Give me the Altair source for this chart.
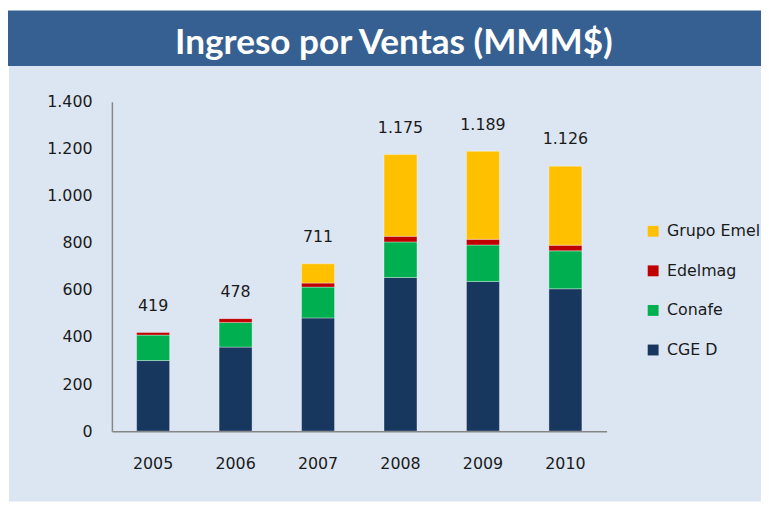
import altair as alt
import pandas as pd

# ---- data ----
years = ["2005", "2006", "2007", "2008", "2009", "2010"]
series_names = ["Grupo Emel", "Edelmag", "Conafe", "CGE D"]   # legend order (top -> bottom)
stack_order = {"CGE D": 0, "Conafe": 1, "Edelmag": 2, "Grupo Emel": 3}
cge_d = [300, 357, 481, 653, 636, 605]
conafe = [108, 105, 131, 151, 155, 161]
edelmag = [11, 16, 17, 24, 24, 24]
grupo_emel = [0, 0, 82, 347, 374, 336]
series_colors = ["#FFC000", "#C00000", "#00B050", "#17375E"]
y_ticks = [0, 200, 400, 600, 800, 1000, 1200, 1400]
title_text = "Ingreso por Ventas (MMM$)"

values_by_series = {
    "CGE D": cge_d,
    "Conafe": conafe,
    "Edelmag": edelmag,
    "Grupo Emel": grupo_emel,
}

rows = []
for name, vals in values_by_series.items():
    for yr, v in zip(years, vals):
        rows.append({"year": yr, "series": name, "value": v, "order": stack_order[name]})
df = pd.DataFrame(rows)

LABEL_FONT = "DejaVu Sans"
TEXT_COLOR = "#1a1a1a"
AXIS_COLOR = "#868686"
PANEL_BG = "#DCE6F2"
BANNER_BG = "#376092"

W, H = 500, 333  # plot area

# decorative panels (page background and title banner)
one = pd.DataFrame({"t": [title_text]})
panel = alt.Chart(one).mark_rect(color=PANEL_BG).encode(
    x=alt.value(-104), x2=alt.value(W + 156),
    y=alt.value(-37), y2=alt.value(H + 71),
)
banner = alt.Chart(one).mark_rect(color=BANNER_BG).encode(
    x=alt.value(-105), x2=alt.value(W + 156),
    y=alt.value(-92), y2=alt.value(-36),
)
banner_text = alt.Chart(one).mark_text(
    font="Lato", fontSize=35.5, fontWeight="bold", color="#ffffff",
    align="center", baseline="alphabetic",
).encode(
    text="t:N",
    x=alt.value(285),
    y=alt.value(-48),
)

base = alt.Chart(df)

bars = base.transform_filter("datum.value > 0").mark_bar(
    stroke="#ffffff", strokeOpacity=0.35, strokeWidth=1
).encode(
    x=alt.X(
        "year:N",
        sort=years,
        scale=alt.Scale(paddingInner=0.6, paddingOuter=0.3),
        axis=alt.Axis(
            title=None, labelAngle=0, ticks=False, grid=False,
            domainColor=AXIS_COLOR, domainWidth=1.5,
            labelFont=LABEL_FONT, labelFontSize=16, labelColor=TEXT_COLOR,
            labelPadding=25, zindex=1,
        ),
    ),
    y=alt.Y(
        "value:Q",
        stack="zero",
        scale=alt.Scale(domain=[0, 1400], nice=False),
        axis=alt.Axis(
            title=None, values=y_ticks, ticks=False, grid=False,
            domainColor=AXIS_COLOR, domainWidth=1.5,
            labelFont=LABEL_FONT, labelFontSize=16, labelColor=TEXT_COLOR,
            labelPadding=20, zindex=1,
            labelExpr="replace(format(datum.value, ','), ',', '.')",
        ),
    ),
    color=alt.Color(
        "series:N",
        scale=alt.Scale(domain=series_names, range=series_colors),
        legend=alt.Legend(
            title=None, orient="none", legendX=539, legendY=123,
            symbolType="square", symbolSize=121, symbolStrokeWidth=0,
            labelFont=LABEL_FONT, labelFontSize=16, labelColor=TEXT_COLOR,
            labelOffset=6, rowPadding=24, padding=0,
        ),
    ),
    order=alt.Order("order:Q", sort="ascending"),
)

totals = base.transform_aggregate(
    total="sum(value)", groupby=["year"]
).transform_calculate(
    label="replace(format(datum.total, ','), ',', '.')"
).mark_text(
    font=LABEL_FONT, fontSize=16, color=TEXT_COLOR, baseline="middle", dy=-27
).encode(
    x=alt.X("year:N", sort=years),
    y=alt.Y("total:Q"),
    text="label:N",
)

chart = alt.layer(panel, banner, banner_text, bars, totals).properties(
    width=W, height=H, background="#ffffff", padding=0
).configure_view(stroke="transparent")

chart.save("out.html", embed_options={"renderer": "svg", "actions": False})
